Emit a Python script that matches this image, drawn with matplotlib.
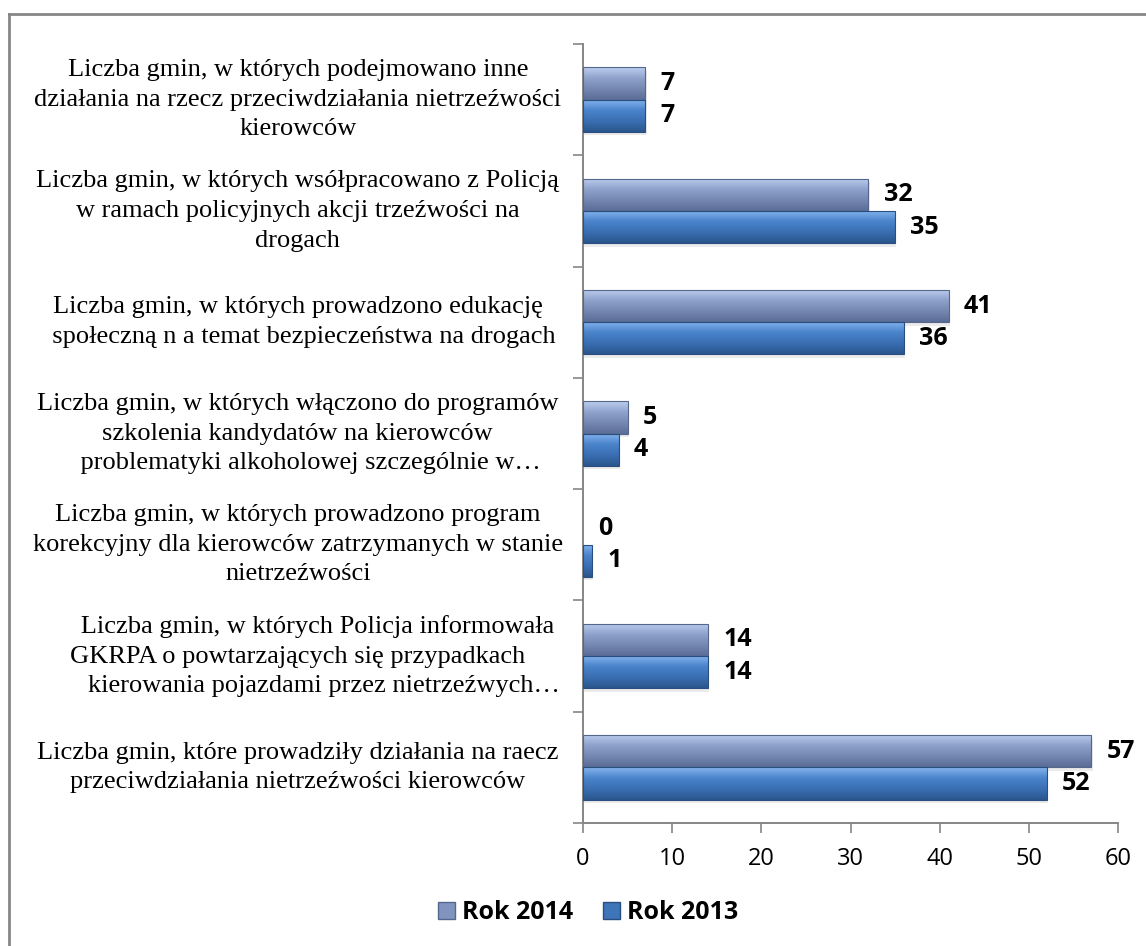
import numpy as np
import matplotlib
matplotlib.use("Agg")
import matplotlib.pyplot as plt
from matplotlib.lines import Line2D
from matplotlib.patches import Rectangle
from matplotlib.colors import LinearSegmentedColormap

# data (top to bottom as shown in the chart)
categories = [
    "Liczba gmin, w których podejmowano inne\ndziałania na rzecz przeciwdziałania nietrzeźwości\nkierowców",
    "Liczba gmin, w których wsółpracowano z Policją\nw ramach policyjnych akcji trzeźwości na\ndrogach",
    "Liczba gmin, w których prowadzono edukację\n  społeczną n a temat bezpieczeństwa na drogach",
    "Liczba gmin, w których włączono do programów\nszkolenia kandydatów na kierowców\n    problematyki alkoholowej szczególnie w…",
    "Liczba gmin, w których prowadzono program\nkorekcyjny dla kierowców zatrzymanych w stanie\nnietrzeźwości",
    "      Liczba gmin, w których Policja informowała\nGKRPA o powtarzających się przypadkach\n        kierowania pojazdami przez nietrzeźwych…",
    "Liczba gmin, które prowadziły działania na raecz\nprzeciwdziałania nietrzeźwości kierowców",
]
rok_2014 = [7, 32, 41, 5, 0, 14, 57]
rok_2013 = [7, 35, 36, 4, 1, 14, 52]
series_names = ["Rok 2014", "Rok 2013"]
x_ticks = [0, 10, 20, 30, 40, 50, 60]

# top -> bottom shading of the bevelled bars
grad_2014 = ["#bccdee", "#8fa2cc", "#7588b2", "#5b6d96"]
grad_2013 = ["#86b5ee", "#4a84cc", "#3a6fb3", "#2a568c"]
edge_2014 = "#56678c"
edge_2013 = "#284f80"


def gradient_fill(ax, patch, colors):
    cmap = LinearSegmentedColormap.from_list("g", colors)
    bb = patch.get_bbox()
    grad = np.linspace(0, 1, 64).reshape(-1, 1)
    # y axis is inverted, so y0 (smaller value) is drawn at the top
    im = ax.imshow(grad, cmap=cmap, aspect="auto", origin="lower",
                   extent=[bb.x0, bb.x1, bb.y0, bb.y1], zorder=patch.get_zorder(),
                   interpolation="bilinear")
    im.set_clip_path(patch)


fig = plt.figure(figsize=(11.46, 9.46), dpi=100)
ax = fig.add_axes([0.5087, 0.130, 0.9756 - 0.5087, 0.9535 - 0.130])

n = len(categories)
y = np.arange(n)
h = 0.29
bars14 = ax.barh(y - h / 2, rok_2014, height=h, color="#7f92bb",
                 edgecolor=edge_2014, linewidth=0.8, zorder=3)
bars13 = ax.barh(y + h / 2, rok_2013, height=h, color="#3e74b8",
                 edgecolor=edge_2013, linewidth=0.8, zorder=3)

# soft shadow + gradient fill
for bars, cols in ((bars14, grad_2014), (bars13, grad_2013)):
    for p in bars:
        if p.get_width() <= 0:
            p.set_linewidth(0)
            continue
        bb = p.get_bbox()
        ax.add_patch(Rectangle((bb.x0 + 0.15, bb.y0 + 0.03), bb.width, bb.height,
                               facecolor="#000000", alpha=0.08, zorder=2, lw=0))
        gradient_fill(ax, p, cols)
        p.set_facecolor("none")
        p.set_zorder(4)

for bars, vals in ((bars14, rok_2014), (bars13, rok_2013)):
    for p, v in zip(bars, vals):
        ax.annotate(str(v), (p.get_width(), p.get_y() + p.get_height() / 2),
                    xytext=(11, 0), textcoords="offset points", va="center",
                    ha="left", fontsize=18, fontweight="bold", family="Open Sans")

ax.set_xlim(0, 60)
ax.set_ylim(n - 0.5, -0.5)
ax.set_xticks(x_ticks)
ax.set_xticklabels([str(t) for t in x_ticks], fontsize=17, family="Open Sans")
ax.set_yticks(np.arange(n + 1) - 0.5)
ax.set_yticklabels([])
ax.tick_params(axis="y", length=7, color="#868686", width=1.2)
ax.tick_params(axis="x", length=7, color="#868686", width=1.2, pad=10)
for s in ("top", "right"):
    ax.spines[s].set_visible(False)
for s in ("left", "bottom"):
    ax.spines[s].set_color("#868686")
    ax.spines[s].set_linewidth(1.4)

for i, lab in enumerate(categories):
    ax.text(-0.533, i, lab, transform=ax.get_yaxis_transform(), ha="center",
            va="center", multialignment="center", fontsize=19,
            family="Liberation Serif", linespacing=1.45)

handles = [Rectangle((0, 0), 1, 1, facecolor="#8194bf", edgecolor=edge_2014),
           Rectangle((0, 0), 1, 1, facecolor="#3e74b8", edgecolor=edge_2013)]
fig.legend(handles, series_names, loc="center", bbox_to_anchor=(0.513, 0.035),
           ncol=2, frameon=False, handlelength=0.7, handleheight=0.7,
           handletextpad=0.25, columnspacing=1.2,
           prop={"family": "Open Sans", "weight": "bold", "size": 18})

# outer frame (left and top edges visible)
fig.add_artist(Line2D([0.0075, 0.0075], [0, 1 - 14 / 946], color="#868686", lw=2))
fig.add_artist(Line2D([0.0075, 1], [1 - 14 / 946, 1 - 14 / 946], color="#868686", lw=2))

fig.savefig("out.png", dpi=100)
